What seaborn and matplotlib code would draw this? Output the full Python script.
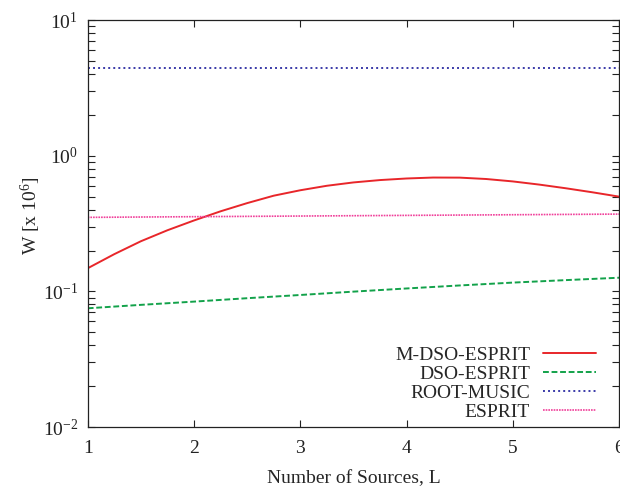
import numpy as np
import pandas as pd
import matplotlib
matplotlib.use("Agg")
import matplotlib.pyplot as plt
import seaborn as sns
from matplotlib.ticker import LogLocator, NullFormatter

sns.set_style("ticks")
plt.rcParams['font.family'] = ['Liberation Serif', 'DejaVu Serif']
plt.rcParams['mathtext.fontset'] = 'custom'
plt.rcParams['mathtext.rm'] = 'Liberation Serif'
plt.rcParams['mathtext.it'] = 'Liberation Serif:italic'

# values (W in units of 10^6)
L_fine = [1, 1.25, 1.5, 1.75, 2, 2.25, 2.5, 2.75, 3, 3.25, 3.5,
          3.75, 4, 4.25, 4.5, 4.75, 5, 5.25, 5.5, 5.75, 6]
m_dso_esprit = [0.148, 0.188, 0.234, 0.282, 0.333, 0.389, 0.447, 0.507, 0.556, 0.600, 0.635,
                0.661, 0.679, 0.690, 0.689, 0.673, 0.646, 0.612, 0.575, 0.537, 0.499]
L = [1, 1.5, 2, 2.5, 3, 3.5, 4, 4.5, 5, 5.5, 6]
dso_esprit = [0.075, 0.0795, 0.084, 0.089, 0.094, 0.0995, 0.105, 0.1105, 0.116, 0.121, 0.126]
root_music = [4.46, 4.46, 4.46, 4.46, 4.46, 4.46, 4.46, 4.46, 4.46, 4.46, 4.46]
esprit = [0.351, 0.353, 0.355, 0.357, 0.359, 0.361, 0.363, 0.365, 0.367, 0.369, 0.371]

series = [
    ("M-DSO-ESPRIT", L_fine, m_dso_esprit, '#e8262a', 1.4, None),
    ("DSO-ESPRIT", L, dso_esprit, '#12a24a', 1.4, (3, 1.4)),
    ("ROOT-MUSIC", L, root_music, '#3a3aa8', 1.4, (1, 1.6)),
    ("ESPRIT", L, esprit, '#f0409a', 1.2, (1, 0.6)),
]

fig = plt.figure(figsize=(6.2, 4.87), dpi=100)
ax = fig.add_axes([0.1415, 0.1232, 0.857, 0.8357])

for name, xs, vals, col, lw, dash in series:
    df = pd.DataFrame({'L': xs, 'W': vals})
    sns.lineplot(data=df, x='L', y='W', ax=ax, color=col, linewidth=lw, label=name)
    line = ax.get_lines()[-1]
    if dash is not None:
        line.set_dashes(dash)

ax.set_yscale('log')
ax.set_xlim(1, 6)
ax.set_ylim(1e-2, 1e1)
ax.set_xticks([1, 2, 3, 4, 5, 6])
ax.set_xticklabels(['1', '2', '3', '4', '5', '6'])
ax.yaxis.set_major_locator(LogLocator(base=10, numticks=10))
ax.yaxis.set_minor_locator(LogLocator(base=10, subs=np.arange(2, 10), numticks=20))
ax.yaxis.set_minor_formatter(NullFormatter())

ax.tick_params(axis='both', which='both', direction='in', top=True, right=True,
               labelsize=14, colors='#222222', width=0.8, pad=7)
ax.tick_params(axis='x', which='major', pad=9)
ax.tick_params(axis='both', which='major', length=5)
ax.tick_params(axis='both', which='minor', length=5)
for s in ax.spines.values():
    s.set_linewidth(0.9)
    s.set_color('#222222')

ax.set_xlabel("Number of Sources, L", fontsize=14, labelpad=10)
ax.set_ylabel(r"W [x 10$^{6}$]", fontsize=14)
ax.yaxis.set_label_coords(-0.085, 0.52)

# gnuplot-style key: labels right-aligned, line samples after them
ax.legend(loc='lower right', bbox_to_anchor=(0.957, 0.015), frameon=False,
          markerfirst=False, fontsize=14, handlelength=2.75, handletextpad=0.65,
          labelspacing=0.07, borderpad=0, borderaxespad=0)

fig.savefig("out.png", dpi=100)
